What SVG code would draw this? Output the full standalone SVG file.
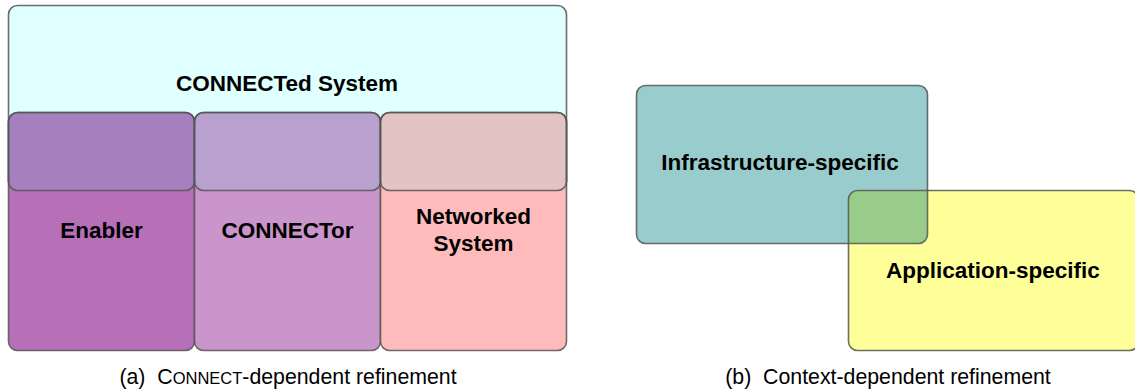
<svg xmlns="http://www.w3.org/2000/svg" width="1135" height="390" viewBox="0 0 1135 390">
<style>
.lbl{font-family:"Liberation Sans",Arial,sans-serif;font-weight:bold;font-size:22.5px;fill:#000;text-anchor:middle}
.cap{font-family:"Liberation Sans",Arial,sans-serif;font-size:21.3px;fill:#000;text-anchor:middle}
.edge{fill:none;stroke:#555;stroke-opacity:0.85;stroke-width:1.6}
</style>
<rect width="1135" height="390" fill="#fff"/>
<g id="connected-system">
<rect x="8.5" y="5.5" width="558" height="185" rx="9" fill="#E0FFFF"/>
<rect class="edge" x="8.5" y="5.5" width="558" height="185" rx="9"/>
<text class="lbl" x="287" y="91">CONNECTed System</text>
</g>
<g id="enabler">
<rect x="8.5" y="112.5" width="186" height="238" rx="9" fill="#B770B7"/>
<rect x="8.5" y="112.5" width="186" height="78" rx="9" fill="#A67FBE"/>
<rect class="edge" x="8.5" y="112.5" width="186" height="78" rx="9"/>
<rect class="edge" x="8.5" y="112.5" width="186" height="238" rx="9"/>
<text class="lbl" x="101.5" y="238">Enabler</text>
</g>
<g id="connector">
<rect x="194.5" y="112.5" width="186" height="238" rx="9" fill="#CA95CA"/>
<rect x="194.5" y="112.5" width="186" height="78" rx="9" fill="#B8A1CF"/>
<rect class="edge" x="194.5" y="112.5" width="186" height="78" rx="9"/>
<rect class="edge" x="194.5" y="112.5" width="186" height="238" rx="9"/>
<text class="lbl" x="287.5" y="238">CONNECTor</text>
</g>
<g id="networked-system">
<rect x="380.5" y="112.5" width="186" height="238" rx="9" fill="#FFBBBB"/>
<rect x="380.5" y="112.5" width="186" height="78" rx="9" fill="#E3C4C2"/>
<rect class="edge" x="380.5" y="112.5" width="186" height="78" rx="9"/>
<rect class="edge" x="380.5" y="112.5" width="186" height="238" rx="9"/>
<text class="lbl" x="473.5" y="224">Networked</text>
<text class="lbl" x="473.5" y="251">System</text>
</g>
<g id="infrastructure-specific">
<rect x="636.5" y="85.5" width="291" height="158" rx="9" fill="#99CCCC"/>
</g>
<g id="application-specific">
<rect x="848.5" y="190.5" width="290" height="160" rx="9" fill="#FFFF99"/>
<path d="M848.5 243.5 V199.5 A9 9 0 0 1 857.5 190.5 H927.5 V234.5 A9 9 0 0 1 918.5 243.5 Z" fill="#99CC88"/>
<rect class="edge" x="848.5" y="190.5" width="290" height="160" rx="9"/>
<rect class="edge" x="636.5" y="85.5" width="291" height="158" rx="9"/>
<text class="lbl" x="780" y="170">Infrastructure-specific</text>
<text class="lbl" x="993" y="278">Application-specific</text>
</g>
<g id="connectors"></g>
<text class="cap" x="288" y="384" xml:space="preserve">(a)  C<tspan font-size="16.5px">ONNECT</tspan>-dependent refinement</text>
<text class="cap" x="888" y="384" xml:space="preserve">(b)  Context-dependent refinement</text>
</svg>
